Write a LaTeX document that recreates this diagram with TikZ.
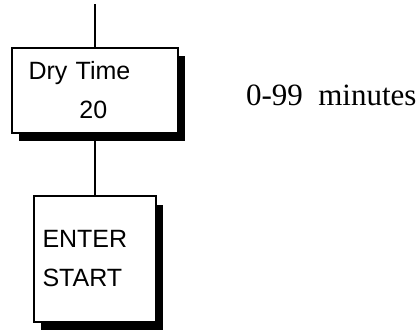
\documentclass[tikz,border=0pt]{standalone}
\usepackage{fontspec}
\setmainfont{Liberation Serif}
\setsansfont{Liberation Sans}
\usetikzlibrary{positioning, shadows}
\tikzset{
    flowbase/.style={x=1pt, y=-1pt, line width=2pt},
    stepbox/.style={rectangle, draw, fill=white, font=\sffamily\fontsize{25}{39}\selectfont, align=left, inner ysep=0pt, drop shadow={shadow xshift=7pt, shadow yshift=-8.5pt, opacity=1, fill=black}},
    rangelabel/.style={font=\rmfamily\fontsize{31}{36}\selectfont, inner sep=0pt},
    line/.style={draw, line width=2pt},
}

\begin{document}
\begin{tikzpicture}[flowbase]
\useasboundingbox (0,0) rectangle (416,330);

% ===================== DRY TIME STEP =====================
\coordinate (d_in) at (94.5,4);
\node[stepbox, inner xsep=17pt, text width=132pt, minimum width=166pt, minimum height=85pt] (d_time) at (94.5,90) {Dry Time\\\hspace*{51pt}20};
\node[rangelabel, anchor=base west] (d_range) at (245,105) {0-99\ \ minutes};

% ===================== ENTER / START =====================
\node[stepbox, inner xsep=9pt, text width=104pt, minimum width=122pt, minimum height=126pt] (e_start) at (94.5,259) {ENTER\\START};

\draw[line] (d_in) -- (d_time.north);
\draw[line] (d_time.south) -- (e_start.north);

\end{tikzpicture}
\end{document}
